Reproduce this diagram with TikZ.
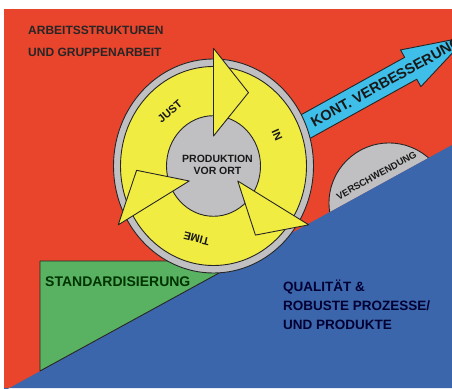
\documentclass[tikz,border=0pt]{standalone}
\usepackage{fontspec}
\setmainfont{Liberation Sans}
\usetikzlibrary{arrows,positioning}
\definecolor{bgred}{RGB}{233,68,44}
\definecolor{jityellow}{RGB}{241,236,66}
\definecolor{ringgray}{RGB}{192,192,194}
\definecolor{baseblue}{RGB}{60,102,172}
\definecolor{stdgreen}{RGB}{88,178,98}
\definecolor{kvpcyan}{RGB}{62,190,232}
\tikzset{
    %Define style for outlined areas
    outlined/.style={
           draw=black!85,
           line width=0.9pt,
           line join=round},
    head/.style={
           outlined,
           fill=jityellow},
    %Define style for texts
    caption/.style={
           inner sep=0pt,
           text=black!85,
           font=\bfseries\fontsize{12}{22}\selectfont,
           align=left},
    ringtext/.style={
           inner sep=0pt,
           text=black!90,
           font=\bfseries\fontsize{11}{13}\selectfont},
    basetext/.style={
           inner sep=0pt,
           text=black!80!blue,
           font=\bfseries\fontsize{13.5}{18}\selectfont}
}
\begin{document}
\begin{tikzpicture}[x=1pt,y=1pt]
\useasboundingbox (0,0) rectangle (452,388);
\fill[white] (0,0) rectangle (452,388);
\begin{scope}
\clip (4,0) rectangle (452,379);
\fill[bgred] (4,0) rectangle (452,379);

 %improvement arrow
\begin{scope}[shift={(307.5,262.5)},rotate=29]
\filldraw[fill=kvpcyan,outlined] (-30,-12.5) -- (118,-12.5) -- (118,-21) -- (183,0)
    -- (118,21) -- (118,12.5) -- (-30,12.5) -- cycle;
\node[ringtext,font=\bfseries\fontsize{14.5}{16}\selectfont,anchor=west,rotate=29] (kvp) at (5,0) {KONT. VERBESSERUNG};
\end{scope}

 %waste bump on the slope
\begin{scope}
\clip (4,-3) -- (452,243) -- (452,379) -- (4,379) -- cycle;
\filldraw[fill=ringgray,outlined] (389,185) circle (60);
\end{scope}
\node[ringtext,font=\bfseries\fontsize{9.5}{11}\selectfont,rotate=29] (waste) at (376.5,212.5) {VERSCHWENDUNG};

 %base and standardisation wedge
\fill[baseblue] (4,-3) -- (452,243) -- (452,0) -- (4,0) -- cycle;
\filldraw[fill=stdgreen,outlined] (40,17) -- (40,127) -- (241,127) -- cycle;

 %jit circle
\begin{scope}[shift={(213.5,222)},yscale=1.07]
\filldraw[fill=ringgray,outlined] (0,0) circle (100);
\filldraw[fill=jityellow,outlined,even odd rule] (0,0) circle (93) (0,0) circle (47);
\foreach \a in {90,330,210}
    \filldraw[head] (\a:28) -- (\a:110) -- ({\a-27}:77) -- cycle;
\node[ringtext,rotate=40.7] (just) at (130.7:67) {JUST};
\node[ringtext,rotate=-65.5] (in) at (24.5:70) {IN};
\node[ringtext,rotate=166] (time) at (256:70) {TIME};
\node[ringtext,font=\bfseries\fontsize{10.5}{12.5}\selectfont,align=center] (prod) at (4,1) {PRODUKTION\\VOR ORT};
\end{scope}
\end{scope}

 %nodes
\node[caption,anchor=north west] (work) at (28,362) {ARBEITSSTRUKTUREN\\UND GRUPPENARBEIT};
\node[caption,font=\bfseries\fontsize{14}{16}\selectfont,anchor=base west,text=black!80!green] (std) at (45,101) {STANDARDISIERUNG};
\node[basetext,anchor=base west] (q1) at (283,96) {QUALITÄT \&};
\node[basetext,anchor=base west] (q2) at (283,77.5) {ROBUSTE PROZESSE/};
\node[basetext,anchor=base west] (q3) at (283,59) {UND PRODUKTE};
\end{tikzpicture}
\end{document}
